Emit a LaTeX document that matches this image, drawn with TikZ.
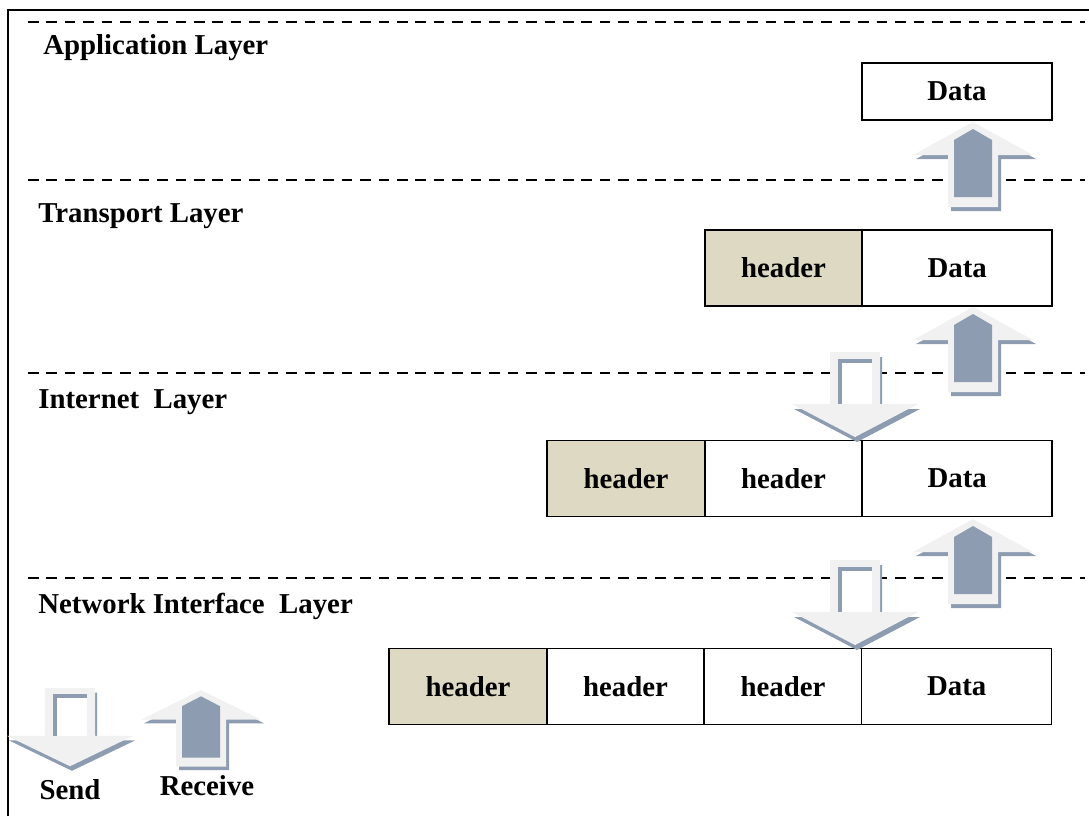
\documentclass[tikz,border=0pt]{standalone}
\usepackage{fontspec}
\setmainfont{Liberation Serif}
\usetikzlibrary{positioning}

\definecolor{hdrtan}{HTML}{DDD9C3}
\definecolor{slate}{RGB}{141,156,176}
\definecolor{pale}{RGB}{241,241,241}

\begin{document}
\begin{tikzpicture}[x=0.02cm,y=-0.02cm,
	every node/.style={font=\fontsize{16.4}{19}\selectfont\bfseries},
	layer/.style={anchor=west,inner sep=0pt},
	cell/.style={draw,line width=0.9pt,outer sep=0pt,minimum width=3.15cm,minimum height=1.52cm},
	hdr/.style={cell,fill=hdrtan},
	datacell/.style={cell,minimum width=3.8cm},
	boundary/.style={line width=1.2pt,dash pattern=on 6pt off 4.5pt},
	upshape/.pic={
		\fill[slate,shift={(3,4)}] (0,0) -- (60,33) -- (25,33) -- (25,85) -- (-25,85) -- (-25,33) -- (-60,33) -- cycle;
		\fill[pale] (0,0) -- (60,33) -- (25,33) -- (25,85) -- (-25,85) -- (-25,33) -- (-60,33) -- cycle;
		\fill[slate] (0,7) -- (19,18) -- (19,75) -- (-19,75) -- (-19,18) -- cycle;
	},
	downshape/.pic={
		\fill[slate,shift={(2,5)}] (-25,0) -- (25,0) -- (25,52) -- (63,52) -- (0,85) -- (-63,52) -- (-25,52) -- cycle;
		\fill[pale] (-25,0) -- (25,0) -- (25,52) -- (63,52) -- (0,85) -- (-63,52) -- (-25,52) -- cycle;
		\fill[slate] (-17,7) rectangle (17,52);
		\fill[white] (-13,11) rectangle (17,52);
	}]
\useasboundingbox (0,0) rectangle (1089,816);

% frame
\draw[line width=1.2pt] (8,816) -- (8,10) -- (1089,10);

% layer boundaries
\foreach \yy in {22,180,373,578}
	\draw[boundary] (28,\yy) -- (1085,\yy);

\node[layer] (app) at (43,48) {Application Layer};
\node[layer] (trans) at (38,216) {Transport Layer};
\node[layer] (inet) at (38,402) {Internet\ \ Layer};
\node[layer] (netif) at (38,606) {Network Interface\ \ Layer};

% application
\node[datacell,minimum height=1.14cm] (appdata) at (957,91.5) {Data};

% transport
\node[hdr] (th) at (783.5,268) {header};
\node[datacell,right=0pt of th] (tdata) {Data};

% internet
\node[hdr] (ih1) at (626,478.5) {header};
\node[cell,right=0pt of ih1] (ih2) {header};
\node[datacell,right=0pt of ih2] (idata) {Data};

% network interface
\node[hdr] (nh1) at (468,686.5) {header};
\node[cell,right=0pt of nh1] (nh2) {header};
\node[cell,right=0pt of nh2] (nh3) {header};
\node[datacell,right=0pt of nh3] (ndata) {Data};

% arrows between layers
\pic (up1) at (973,122) {upshape};
\pic (up2) at (973,307) {upshape};
\pic (up3) at (973,519) {upshape};
\pic (dn1) at (855,352) {downshape};
\pic (dn2) at (855,560) {downshape};

% legend
\pic[yscale=0.92] (sendarr) at (70,688) {downshape};
\pic[yscale=0.9] (recvarr) at (201,690) {upshape};
\node (send) at (70,790) {Send};
\node (recv) at (207,786) {Receive};
\end{tikzpicture}
\end{document}
